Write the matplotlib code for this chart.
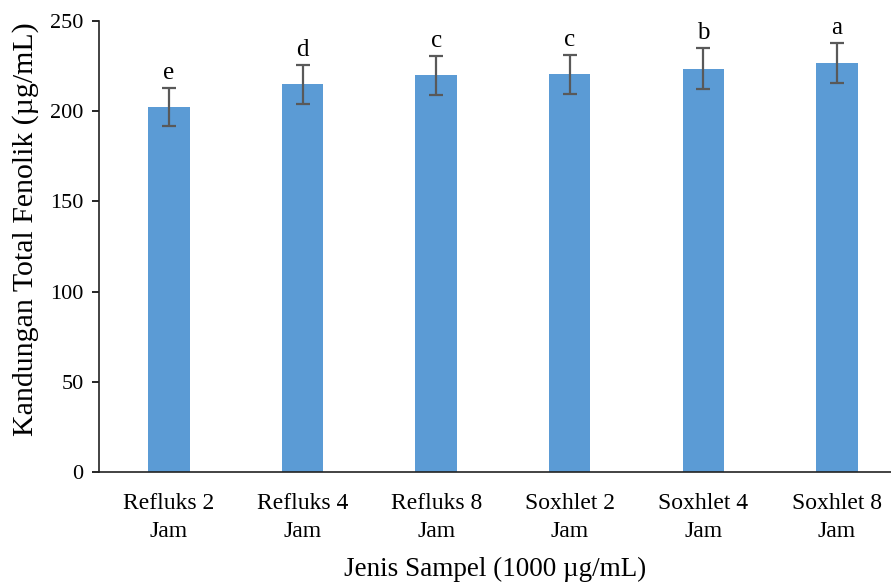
import numpy as np
import matplotlib.pyplot as plt

plt.rcParams['font.family'] = ['Liberation Serif', 'DejaVu Serif']

# Total phenolic content per extraction method
samples = ['Refluks 2\nJam', 'Refluks 4\nJam', 'Refluks 8\nJam',
           'Soxhlet 2\nJam', 'Soxhlet 4\nJam', 'Soxhlet 8\nJam']
fenolik = [202.2, 214.8, 219.9, 220.5, 223.6, 226.7]
sd = [10.4, 10.9, 10.9, 10.8, 11.2, 11.1]
notasi = ['e', 'd', 'c', 'c', 'b', 'a']

fig = plt.figure(figsize=(8.91, 5.82), dpi=100)
ax = fig.add_axes([0.111, 0.189, 0.889, 0.775])

x = np.arange(len(samples))
ax.bar(x, fenolik, width=0.31, color='#5B9BD5', zorder=2)
ax.errorbar(x, fenolik, yerr=sd, fmt='none', ecolor='#595959',
            elinewidth=1.6, capsize=5, capthick=1.6, zorder=3)

# significance letters above the caps
for xi, v, e, lab in zip(x, fenolik, sd, notasi):
    ax.text(xi, v + e + 5, lab, ha='center', va='baseline', fontsize=18)

ax.set_xlim(-0.524, 5.404)
ax.set_ylim(0, 250)
ax.set_yticks(np.arange(0, 251, 50))
ax.set_xticks(x)
ax.set_xticklabels(samples, fontsize=17, linespacing=1.45)
ax.tick_params(axis='x', length=0, pad=15)
ax.tick_params(axis='y', labelsize=16, length=5, width=1.2, direction='out', pad=6)

for s in ['top', 'right']:
    ax.spines[s].set_visible(False)
for s in ['left', 'bottom']:
    ax.spines[s].set_color('#222222')
    ax.spines[s].set_linewidth(1.2)

ax.set_xlabel('Jenis Sampel (1000 µg/mL)', fontsize=19.5, labelpad=11)
ax.set_ylabel('Kandungan Total Fenolik (µg/mL)', fontsize=21.5)
ax.yaxis.set_label_coords(-0.075, 0.539)

fig.savefig('out.png', dpi=100)
